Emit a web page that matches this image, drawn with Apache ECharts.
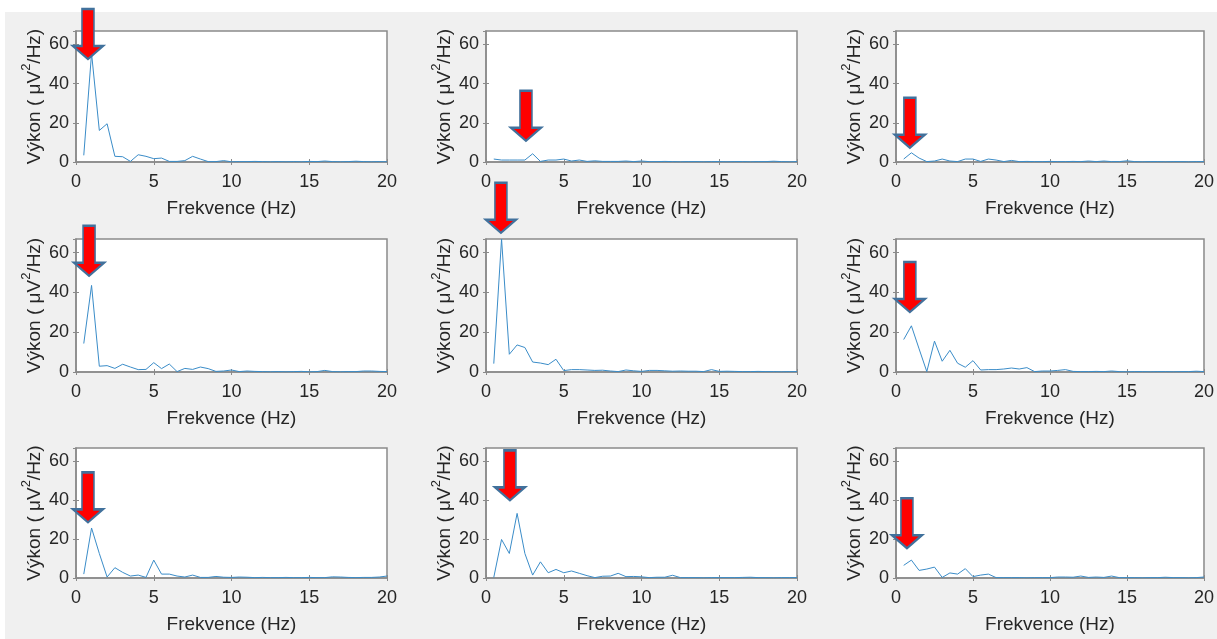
<!DOCTYPE html>
<html><head><meta charset="utf-8">
<script src="https://cdn.jsdelivr.net/npm/echarts@6/dist/echarts.min.js"></script>
<style>
html,body{margin:0;padding:0;background:#fff;width:1217px;height:639px;overflow:hidden}
#bg{position:absolute;left:5px;top:12px;right:0;bottom:0;background:#f0f0f0}
#chart{position:absolute;left:0;top:0;width:1217px;height:639px}
</style></head>
<body><div id="bg"></div><div id="chart"></div>
<script>
// Frequencies (Hz)
var freq = [0.5,1,1.5,2,2.5,3,3.5,4,4.5,5,5.5,6,6.5,7,7.5,8,8.5,9,9.5,10,10.5,11,11.5,12,12.5,13,13.5,14,14.5,15,15.5,16,16.5,17,17.5,18,18.5,19,19.5,20];
// Power spectra per panel (µV²/Hz)
var p1 = [3.4,55.4,16.1,19.5,2.9,2.7,0.3,3.7,2.9,1.7,2.0,0.3,0.3,0.7,2.9,1.5,0.2,0.2,0.7,0.1,0.2,0.2,0.3,0.2,0.1,0.2,0.1,0.2,0.1,0.3,0.2,0.5,0.2,0.1,0.2,0.4,0.2,0.1,0.2,0.1];
var p2 = [1.5,1.0,1.0,1.0,1.0,4.2,0.3,1.0,1.0,1.5,0.5,1.0,0.3,0.6,0.3,0.3,0.3,0.5,0.2,0.5,0.2,0.2,0.3,0.2,0.1,0.2,0.2,0.1,0.2,0.2,0.1,0.2,0.2,0.1,0.2,0.2,0.4,0.2,0.1,0.2];
var p3 = [1.5,4.7,2.0,0.2,0.5,1.5,0.5,0.2,1.5,1.5,0.3,1.5,1.0,0.2,0.8,0.2,0.3,0.2,0.2,0.3,0.2,0.2,0.3,0.2,0.5,0.2,0.5,0.2,0.2,0.6,0.2,0.1,0.2,0.2,0.1,0.2,0.2,0.1,0.2,0.2];
var p4 = [14.3,43.5,2.9,3.2,1.8,3.9,2.5,1.2,1.3,4.7,1.7,4.0,0.2,1.8,1.3,2.5,1.7,0.3,0.5,1.0,0.2,0.5,0.3,0.2,0.1,0.2,0.1,0.2,0.3,0.1,0.2,0.8,0.2,0.1,0.2,0.2,0.5,0.5,0.3,0.2];
var p5 = [4.2,66.8,8.9,13.6,12.3,5.0,4.5,3.7,6.4,0.7,1.2,1.2,1.0,0.8,0.9,0.5,0.2,1.0,0.6,0.3,0.8,0.8,0.6,0.4,0.5,0.4,0.4,0.2,1.2,0.3,0.4,0.3,0.2,0.2,0.3,0.2,0.2,0.1,0.2,0.2];
var p6 = [16.3,23.2,11.6,0.2,15.5,5.4,10.9,4.4,2.4,5.7,1.0,1.2,1.2,1.5,2.0,1.5,2.2,0.2,0.5,0.5,0.8,1.2,0.3,0.2,0.2,0.3,0.2,0.5,0.2,0.1,0.2,0.2,0.1,0.2,0.2,0.1,0.2,0.2,0.4,0.2];
var p7 = [2.0,25.7,12.6,0.5,5.3,2.9,1.0,1.5,0.3,9.2,2.0,2.0,1.0,0.5,1.5,0.3,0.3,0.8,0.4,0.3,0.5,0.4,0.2,0.3,0.2,0.2,0.3,0.2,0.2,0.3,0.2,0.2,0.6,0.5,0.3,0.2,0.3,0.3,0.5,1.0];
var p8 = [0.3,19.8,12.6,33.2,12.6,1.5,8.3,2.7,4.4,2.7,3.6,2.4,1.2,0.2,0.9,1.0,2.4,0.7,0.8,0.6,0.2,0.4,0.4,1.4,0.2,0.2,0.2,0.1,0.2,0.2,0.2,0.2,0.3,0.4,0.2,0.2,0.1,0.2,0.2,0.2];
var p9 = [6.5,9.2,3.9,4.6,5.6,0.3,2.6,2.0,4.8,0.7,1.5,2.0,0.2,0.2,0.2,0.2,0.1,0.2,0.2,0.2,0.5,0.5,0.4,1.0,0.3,0.5,0.3,1.0,0.2,0.2,0.2,0.1,0.2,0.2,0.4,0.2,0.2,0.1,0.2,0.5];
// Arrow annotation tips (data coords)
var arrowX = [0.77, 2.57, 0.9, 0.84, 0.96, 0.9, 0.77, 1.54, 0.71];
var arrowY = [52.5, 10.8, 7.3, 48.3, 69.9, 30.1, 28.6, 39.9, 15.3];
// Axis ticks
var xTicks = [0, 5, 10, 15, 20];
var yTicks = [0, 20, 40, 60];
var xMax = 20, yMax = 66.8;
var xLabel = 'Frekvence (Hz)';

var panels = [p1,p2,p3,p4,p5,p6,p7,p8,p9];
var colLeft = [76, 486, 896], colWidth = [311, 311, 312];
var rowTop = [31, 239, 448], rowHeight = [131, 133, 130];

var FONT = 'Liberation Sans, Arial, Helvetica, sans-serif';
var TXT = '#262626';
var BOX = '#8a8a8a';
var ARROW_H = 50;
var arrowPath = 'path://M9,0 L21,0 L21,37 L30,37 L15,50 L0,37 L9,37 Z';

var grids = [], xAxes = [], yAxes = [], series = [];
panels.forEach(function (vals, i) {
  var r = Math.floor(i / 3), c = i % 3;
  // arrows whose tip lies above the axis top are anchored at the top and lifted
  var ay = Math.min(arrowY[i], yMax);
  var lift = (arrowY[i] - ay) * rowHeight[r] / yMax;
  grids.push({left: colLeft[c], top: rowTop[r], width: colWidth[c], height: rowHeight[r],
    show: true, backgroundColor: '#ffffff', borderColor: BOX, borderWidth: 1.5, containLabel: false});
  xAxes.push({type: 'value', gridIndex: i, position: 'bottom', min: 0, max: xMax, interval: 5,
    name: xLabel, nameLocation: 'middle', nameGap: 37,
    nameTextStyle: {color: TXT, fontSize: 19, fontFamily: FONT},
    axisLine: {show: true, lineStyle: {color: BOX, width: 1.5}},
    axisTick: {show: true, inside: true, length: 3, lineStyle: {color: BOX}},
    axisLabel: {color: TXT, fontSize: 18, fontFamily: FONT, margin: 11,
      formatter: function (v) { return xTicks.indexOf(v) >= 0 ? String(v) : ''; }},
    splitLine: {show: false}});
  xAxes.push({type: 'value', gridIndex: i, position: 'top', min: 0, max: xMax, interval: 5,
    axisLine: {show: false}, axisTick: {show: true, inside: true, length: 3, lineStyle: {color: BOX}},
    axisLabel: {show: false}, splitLine: {show: false}});
  yAxes.push({type: 'value', gridIndex: i, position: 'left', min: 0, max: yMax, interval: 20,
    name: '{a|Výkon ( μV}{s|2}{a|/Hz)}', nameLocation: 'middle', nameGap: 32, nameRotate: 90,
    nameTextStyle: {color: TXT, fontFamily: FONT,
      rich: {a: {fontSize: 19, color: TXT, fontFamily: FONT, lineHeight: 24, verticalAlign: 'bottom'},
             s: {fontSize: 13, color: TXT, fontFamily: FONT, lineHeight: 24, verticalAlign: 'top'}}},
    axisLine: {show: true, lineStyle: {color: BOX, width: 1.5}},
    axisTick: {show: true, inside: true, length: 3, lineStyle: {color: BOX}},
    axisLabel: {color: TXT, fontSize: 18, fontFamily: FONT, margin: 7, showMaxLabel: false,
      formatter: function (v) { return yTicks.indexOf(v) >= 0 ? String(v) : ''; }},
    splitLine: {show: false}});
  yAxes.push({type: 'value', gridIndex: i, position: 'right', min: 0, max: yMax, interval: 20,
    axisLine: {show: false}, axisTick: {show: true, inside: true, length: 3, lineStyle: {color: BOX}},
    axisLabel: {show: false}, splitLine: {show: false}});
  series.push({type: 'line', xAxisIndex: 2 * i, yAxisIndex: 2 * i, showSymbol: false, silent: true,
    lineStyle: {color: '#3a8cc8', width: 1},
    data: freq.map(function (f, k) { return [f, vals[k]]; }),
    markPoint: {silent: true, animation: false,
      data: [{coord: [arrowX[i], ay], symbol: arrowPath, symbolSize: [30, ARROW_H],
        symbolOffset: [0, -(ARROW_H / 2 + lift)],
        itemStyle: {color: '#ff0000', borderColor: '#41719c', borderWidth: 2},
        label: {show: false}}]}});
});

var chart = echarts.init(document.getElementById('chart'), null, {renderer: 'canvas'});
chart.setOption({animation: false, backgroundColor: 'transparent',
  grid: grids, xAxis: xAxes, yAxis: yAxes, series: series});
</script></body></html>
